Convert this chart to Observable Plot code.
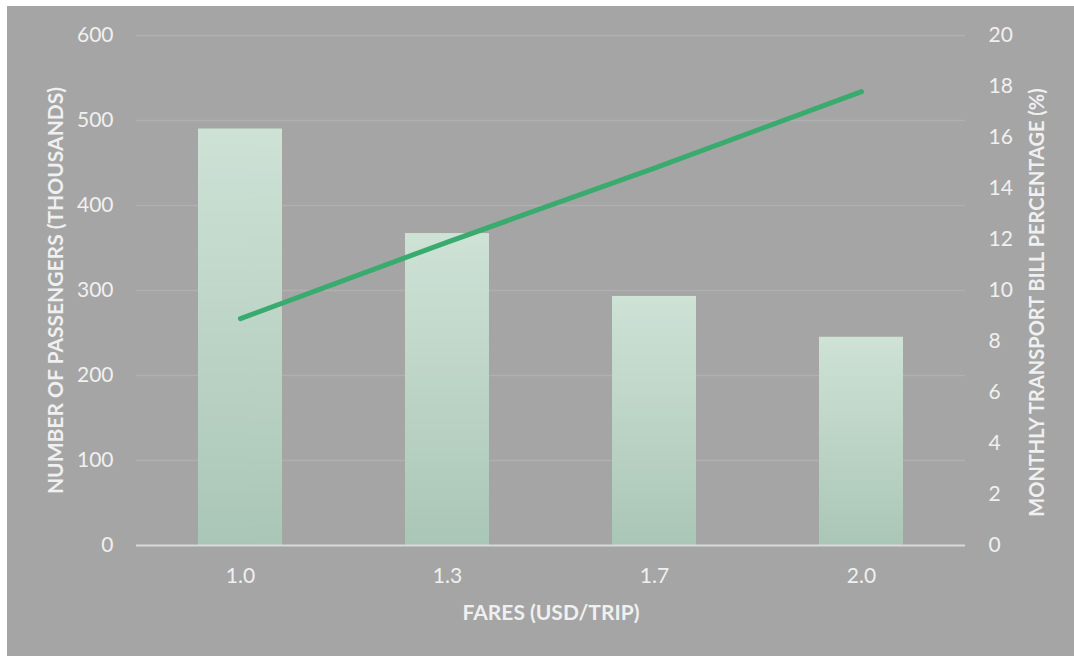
<!DOCTYPE html>
<html><head><meta charset="utf-8">
<script src="https://cdn.jsdelivr.net/npm/d3@7"></script>
<script src="https://cdn.jsdelivr.net/npm/@observablehq/plot@0.6"></script>
<style>
html,body{margin:0;padding:0;background:#fff;}
#wrap{position:absolute;left:7px;top:6px;width:1067px;height:650px;background:#a5a5a5;}
</style></head><body><div id="wrap"></div>
<script>
const fares = ["1.0", "1.3", "1.7", "2.0"];
const passengers = [490, 367, 293, 245];
const billPct = [8.9, 11.9, 14.8, 17.8];
const leftTicks = [0, 100, 200, 300, 400, 500, 600];
const rightTicks = [0, 2, 4, 6, 8, 10, 12, 14, 16, 18, 20];
const xTitle = "FARES (USD/TRIP)";
const yTitle = "NUMBER OF PASSENGERS (THOUSANDS)";
const y2Title = "MONTHLY TRANSPORT BILL PERCENTAGE (%)";

const ratio = 600 / 20; // right axis max maps to left axis max
const data = fares.map((f, i) => ({fare: f, passengers: passengers[i], pct: billPct[i]}));

const defs = () => {
  const d = d3.create("svg:defs");
  const g = d.append("linearGradient").attr("id", "barGrad")
    .attr("x1", 0).attr("y1", 0).attr("x2", 0).attr("y2", 1);
  g.append("stop").attr("offset", "0%").attr("stop-color", "#cee2d6");
  g.append("stop").attr("offset", "100%").attr("stop-color", "#aac6b6");
  return d.node();
};

const txt = "#f0f0f0";
const chart = Plot.plot({
  width: 1067, height: 650,
  marginLeft: 129, marginRight: 109, marginTop: 29, marginBottom: 111,
  style: {background: "transparent", fontFamily: "Lato, sans-serif", color: txt},
  x: {type: "band", domain: fares, paddingInner: 0.595, paddingOuter: 0.2975, label: null},
  y: {domain: [0, 600], label: null},
  marks: [
    defs,
    Plot.gridY(leftTicks.slice(1), {stroke: "#b0b0b0", strokeOpacity: 1, strokeWidth: 1.5}),
    Plot.barY(data, {x: "fare", y: "passengers", fill: "url(#barGrad)"}),
    Plot.ruleY([0], {stroke: "#d9d9d9", strokeWidth: 2}),
    Plot.lineY(data, {x: "fare", y: d => d.pct * ratio, stroke: "#3aab6f", strokeWidth: 5, strokeLinecap: "round"}),
    Plot.axisY(leftTicks, {anchor: "left", tickSize: 0, tickPadding: 23, fontSize: 21, fill: txt, label: null}),
    Plot.axisY(rightTicks.map(t => t * ratio), {anchor: "right", tickSize: 0, tickPadding: 23, fontSize: 21, fill: txt, tickFormat: d => d / ratio, label: null}),
    Plot.axisX({tickSize: 0, tickPadding: 23, fontSize: 21, fill: txt, label: null}),
    Plot.text([xTitle], {frameAnchor: "bottom", dy: 68, textAnchor: "middle", lineAnchor: "middle", fontSize: 21, fontWeight: "bold", fill: txt}),
    Plot.text([yTitle], {frameAnchor: "left", dx: -80, rotate: -90, textAnchor: "middle", lineAnchor: "middle", fontSize: 21, fontWeight: "bold", fill: txt}),
    Plot.text([y2Title], {frameAnchor: "right", dx: 72, dy: 12, rotate: -90, textAnchor: "middle", lineAnchor: "middle", fontSize: 20, fontWeight: "bold", fill: txt})
  ]
});
document.getElementById("wrap").appendChild(chart);
</script></body></html>
